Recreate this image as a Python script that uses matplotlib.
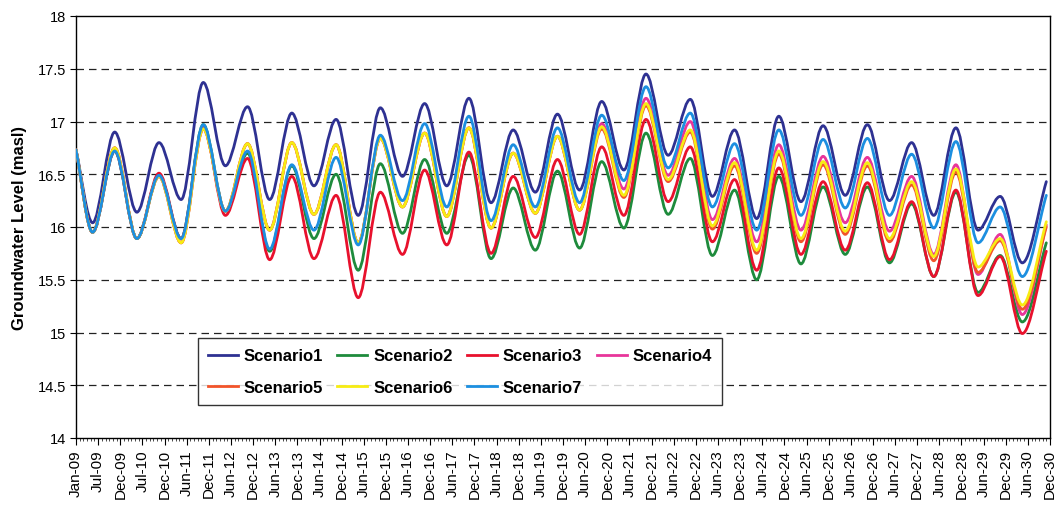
import numpy as np
import matplotlib
matplotlib.use("Agg")
import matplotlib.pyplot as plt
from matplotlib.path import Path
from matplotlib.patches import PathPatch
from matplotlib.lines import Line2D

# ---------------- data ----------------
tick_labels = ['Jan-09', 'Jul-09', 'Dec-09', 'Jul-10', 'Dec-10', 'Jun-11', 'Dec-11', 'Jun-12',
               'Dec-12', 'Jun-13', 'Dec-13', 'Jun-14', 'Dec-14', 'Jun-15', 'Dec-15', 'Jun-16',
               'Dec-16', 'Jun-17', 'Dec-17', 'Jun-18', 'Dec-18', 'Jun-19', 'Dec-19', 'Jun-20',
               'Dec-20', 'Jun-21', 'Dec-21', 'Jun-22', 'Dec-22', 'Jun-23', 'Dec-23', 'Jun-24',
               'Dec-24', 'Jun-25', 'Dec-25', 'Jun-26', 'Dec-26', 'Jun-27', 'Dec-27', 'Jun-28',
               'Dec-28', 'Jun-29', 'Dec-29', 'Jun-30', 'Dec-30']

# months since Jan-09 of the start, each seasonal low / high, and the end
turn_months = [0, 4.5, 10.5, 16.5, 22.5, 28.5, 34.5, 40.5, 46.5, 52.5, 58.5, 64.5, 70.5,
               76.5, 82.5, 88.5, 94.5, 100.5, 106.5, 112.5, 118.5, 124.5, 130.5, 136.5, 142.5,
               148.5, 154.5, 160.5, 166.5, 172.5, 178.5, 184.5, 190.5, 196.5, 202.5, 208.5,
               214.5, 220.5, 226.5, 232.5, 238.5, 244.5, 250.5, 256.5, 263]

scenario1 = [16.73, 16.04, 16.90, 16.14, 16.80, 16.26, 17.37, 16.58, 17.14, 16.26, 17.08,
             16.39, 17.02, 16.11, 17.13, 16.48, 17.17, 16.39, 17.22, 16.23, 16.92, 16.33,
             17.07, 16.35, 17.19, 16.54, 17.45, 16.68, 17.21, 16.29, 16.92, 16.08, 17.05,
             16.24, 16.96, 16.30, 16.97, 16.25, 16.80, 16.11, 16.94, 15.97, 16.29, 15.66, 16.43]
scenario2 = [16.73, 15.95, 16.72, 15.89, 16.49, 15.89, 16.97, 16.15, 16.70, 15.77, 16.58,
             15.89, 16.50, 15.59, 16.60, 15.94, 16.64, 15.94, 16.68, 15.70, 16.37, 15.78,
             16.53, 15.80, 16.62, 15.99, 16.89, 16.12, 16.65, 15.73, 16.35, 15.50, 16.48,
             15.65, 16.38, 15.74, 16.38, 15.66, 16.22, 15.53, 16.33, 15.38, 15.73, 15.10, 15.85]
scenario3 = [16.73, 15.95, 16.72, 15.89, 16.51, 15.89, 16.95, 16.11, 16.65, 15.69, 16.48,
             15.70, 16.30, 15.33, 16.33, 15.74, 16.54, 15.83, 16.71, 15.75, 16.48, 15.90,
             16.64, 15.93, 16.76, 16.11, 17.02, 16.24, 16.76, 15.86, 16.45, 15.59, 16.56,
             15.74, 16.43, 15.78, 16.42, 15.69, 16.24, 15.53, 16.35, 15.35, 15.72, 14.99, 15.77]
scenario4 = [16.73, 15.95, 16.75, 15.89, 16.48, 15.85, 16.93, 16.15, 16.79, 15.97, 16.80,
             16.12, 16.78, 15.85, 16.84, 16.19, 16.89, 16.10, 16.94, 15.99, 16.70, 16.13,
             16.86, 16.16, 16.98, 16.36, 17.22, 16.49, 17.00, 16.07, 16.65, 15.86, 16.78,
             15.97, 16.67, 16.04, 16.66, 15.96, 16.48, 15.74, 16.59, 15.55, 15.93, 15.17, 16.02]
scenario5 = [16.73, 15.95, 16.75, 15.89, 16.48, 15.85, 16.93, 16.15, 16.79, 15.97, 16.80,
             16.12, 16.78, 15.85, 16.84, 16.19, 16.89, 16.10, 16.94, 15.99, 16.70, 16.13,
             16.86, 16.16, 16.93, 16.28, 17.15, 16.43, 16.90, 15.98, 16.58, 15.75, 16.69,
             15.86, 16.59, 15.93, 16.58, 15.86, 16.40, 15.68, 16.52, 15.57, 15.87, 15.22, 16.00]
scenario6 = [16.73, 15.95, 16.75, 15.89, 16.48, 15.85, 16.93, 16.15, 16.79, 15.97, 16.80,
             16.12, 16.78, 15.85, 16.84, 16.19, 16.89, 16.10, 16.94, 15.99, 16.70, 16.13,
             16.86, 16.16, 16.95, 16.30, 17.17, 16.45, 16.92, 16.01, 16.61, 15.78, 16.72,
             15.89, 16.62, 15.96, 16.61, 15.89, 16.43, 15.72, 16.55, 15.62, 15.89, 15.26, 16.05]
scenario7 = [16.73, 15.95, 16.72, 15.89, 16.49, 15.89, 16.97, 16.15, 16.72, 15.79, 16.59,
             15.97, 16.66, 15.83, 16.87, 16.25, 16.98, 16.19, 17.05, 16.06, 16.78, 16.19,
             16.94, 16.23, 17.06, 16.44, 17.33, 16.56, 17.08, 16.19, 16.79, 15.97, 16.92,
             16.11, 16.83, 16.18, 16.84, 16.11, 16.69, 15.99, 16.81, 15.85, 16.19, 15.53, 16.30]

series_names = ['Scenario1', 'Scenario2', 'Scenario3', 'Scenario4',
                'Scenario5', 'Scenario6', 'Scenario7']
series_values = [scenario1, scenario2, scenario3, scenario4, scenario5, scenario6, scenario7]

# ---------------- style ----------------
colors = ['#2E3192', '#1E8B3C', '#E8112D', '#E8359A', '#F2542A', '#F7EC13', '#1C8FE0']

plt.rcParams['font.family'] = ['Liberation Sans', 'DejaVu Sans']

fig = plt.figure(figsize=(10.63, 5.06), dpi=100)
ax = fig.add_axes([76 / 1063, 1 - 439 / 506, (1050 - 76) / 1063, (439 - 17) / 506])


def smooth_path(xs, ys):
    """Smooth (Bezier) path through the turning points, flat at each turning point."""
    n = len(xs)
    verts = [(xs[0], ys[0])]
    codes = [Path.MOVETO]
    for i in range(n - 1):
        x0, y0, x1, y1 = xs[i], ys[i], xs[i + 1], ys[i + 1]
        dx = x1 - x0
        chord = (y1 - y0) / dx
        m0 = chord if i == 0 else 0.0
        m1 = chord if i + 1 == n - 1 else 0.0
        verts += [(x0 + dx / 3, y0 + m0 * dx / 3),
                  (x1 - dx / 3, y1 - m1 * dx / 3),
                  (x1, y1)]
        codes += [Path.CURVE4] * 3
    return Path(verts, codes)


handles = []
for k, (name, vals) in enumerate(zip(series_names, series_values)):
    p = smooth_path(turn_months, vals)
    ax.add_patch(PathPatch(p, facecolor='none', edgecolor=colors[k], lw=2.0,
                           zorder=3 + k, capstyle='round', joinstyle='round'))
    handles.append(Line2D([], [], color=colors[k], lw=2.0, label=name))

ax.set_xlim(0, 264)
ax.set_ylim(14, 18)

ax.set_yticks(np.arange(14, 18.01, 0.5))
ax.set_yticklabels(['14', '14.5', '15', '15.5', '16', '16.5', '17', '17.5', '18'], fontsize=10.5)
for yv in np.arange(14.5, 17.6, 0.5):
    ax.axhline(yv, color='#222222', lw=0.9, dashes=(6, 4), zorder=1)

ax.set_xticks(np.linspace(0, 264, len(tick_labels)))
ax.set_xticklabels(tick_labels, rotation=90, fontsize=11)
ax.set_xticks(np.arange(0, 265, 1), minor=True)
ax.tick_params(axis='x', which='major', direction='out', length=5, width=0.8, pad=3)
ax.tick_params(axis='x', which='minor', direction='out', length=2.5, width=0.5)
ax.tick_params(axis='y', direction='out', length=4, width=0.8, pad=3)

for s in ax.spines.values():
    s.set_color('black')
    s.set_linewidth(1.0)

ax.set_ylabel('Groundwater Level (masl)', fontsize=12, fontweight='bold', labelpad=8)

# legend rows: Scenario1-4 on the first row, Scenario5-7 on the second
order = [0, 4, 1, 5, 2, 6, 3]
leg = ax.legend(handles=[handles[i] for i in order], ncol=4, loc='lower left',
                bbox_to_anchor=(0.125, 0.078, 0.538, 0.152), mode='expand',
                frameon=True, fancybox=False, edgecolor='black', borderaxespad=0,
                prop={'weight': 'bold', 'size': 12}, handlelength=1.8, handletextpad=0.35,
                borderpad=0.6, labelspacing=1.0)
leg.get_frame().set_linewidth(1.0)
leg.set_zorder(20)

fig.savefig('out.png', dpi=100)
